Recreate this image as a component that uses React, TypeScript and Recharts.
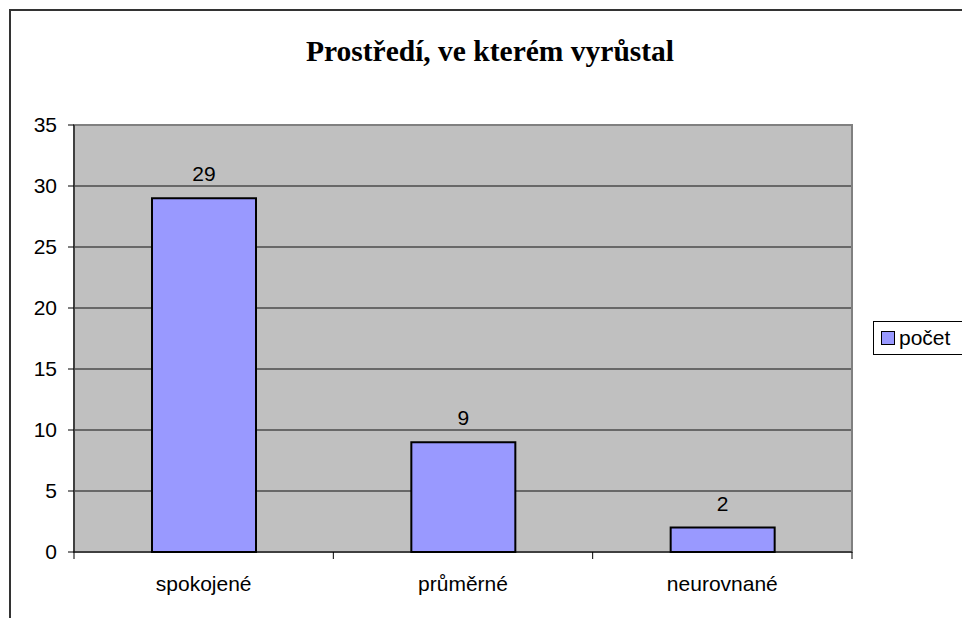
import React from "react";
import { BarChart, Bar, XAxis, YAxis, CartesianGrid, LabelList, Legend, ReferenceArea } from "recharts";

const categories = ["spokojené", "průměrné", "neurovnané"];
const values = [29, 9, 2];
const yTicks = [0, 5, 10, 15, 20, 25, 30, 35];
const seriesName = "počet";
const title = "Prostředí, ve kterém vyrůstal";

const data = categories.map((c, i) => ({ name: c, value: values[i] }));

const FONT = "Liberation Sans, Arial, sans-serif";

const LegendContent = () => (
  <div
    style={{
      border: "1px solid #000",
      background: "#fff",
      height: 34,
      width: 120,
      boxSizing: "border-box",
      display: "flex",
      alignItems: "center",
      paddingLeft: 7,
      fontFamily: FONT,
      fontSize: 21,
      color: "#000",
    }}
  >
    <span
      style={{
        display: "inline-block",
        width: 12,
        height: 12,
        background: "#9999FF",
        border: "1.5px solid #000",
        marginRight: 4,
      }}
    />
    {seriesName}
  </div>
);

const CategoryTick = (props: any) => {
  const { x, y, payload, index, visibleTicksCount } = props;
  const half = payload && payload.offset ? payload.offset : 0;
  const isLast = index === (visibleTicksCount ?? categories.length) - 1;
  return (
    <g>
      <line x1={x - half} x2={x - half} y1={y} y2={y + 7} stroke="#000" strokeWidth={1} />
      {isLast && <line x1={x + half} x2={x + half} y1={y} y2={y + 7} stroke="#000" strokeWidth={1} />}
      <text x={x} y={y + 24} dy="0.71em" textAnchor="middle" fontFamily={FONT} fontSize={21} fill="#000">
        {payload.value}
      </text>
    </g>
  );
};

export default function App() {
  return (
    <div style={{ position: "absolute", left: 0, top: 0, width: 962, height: 618, overflow: "hidden", background: "#fff" }}>
      <div
        style={{
          position: "absolute",
          left: 9,
          top: 9,
          width: 1100,
          height: 800,
          border: "2px solid #333",
        }}
      />
      <div
        style={{
          position: "absolute",
          left: 0,
          top: 37,
          width: 980,
          textAlign: "center",
          fontFamily: "Liberation Serif, Times New Roman, serif",
          fontWeight: "bold",
          fontSize: 29.5,
          lineHeight: 1,
          color: "#000",
        }}
      >
        {title}
      </div>
      <div style={{ position: "absolute", left: 0, top: 0 }}>
        <BarChart width={962} height={618} data={data} margin={{ top: 125, right: 110, bottom: 36, left: 14 }}>
          <CartesianGrid vertical={false} stroke="#111" fill="#C0C0C0" />
          <ReferenceArea y1={0} y2={35} fill="none" stroke="#808080" strokeWidth={2} ifOverflow="visible" />
          <XAxis
            dataKey="name"
            tickLine={false}
            tickSize={0}
            tickMargin={0}
            axisLine={{ stroke: "#000", strokeWidth: 1 }}
            height={30}
            tick={CategoryTick}
            interval={0}
          />
          <YAxis
            domain={[0, 35]}
            ticks={yTicks}
            interval={0}
            width={60}
            tickSize={6}
            tickMargin={11}
            axisLine={{ stroke: "#000" }}
            tickLine={{ stroke: "#000" }}
            tick={{ fontFamily: FONT, fontSize: 21, fill: "#000" }}
          />
          <Legend
            layout="horizontal"
            align="center"
            verticalAlign="middle"
            content={<LegendContent />}
            wrapperStyle={{ position: "absolute", left: 873, top: 321, width: 120 }}
          />
          <Bar dataKey="value" name={seriesName} fill="#9999FF" stroke="#000" strokeWidth={2} barSize={104} isAnimationActive={false}>
            <LabelList
              dataKey="value"
              position="top"
              offset={17}
              style={{ fontFamily: FONT, fontSize: 21, fill: "#000" }}
            />
          </Bar>
        </BarChart>
      </div>
    </div>
  );
}
